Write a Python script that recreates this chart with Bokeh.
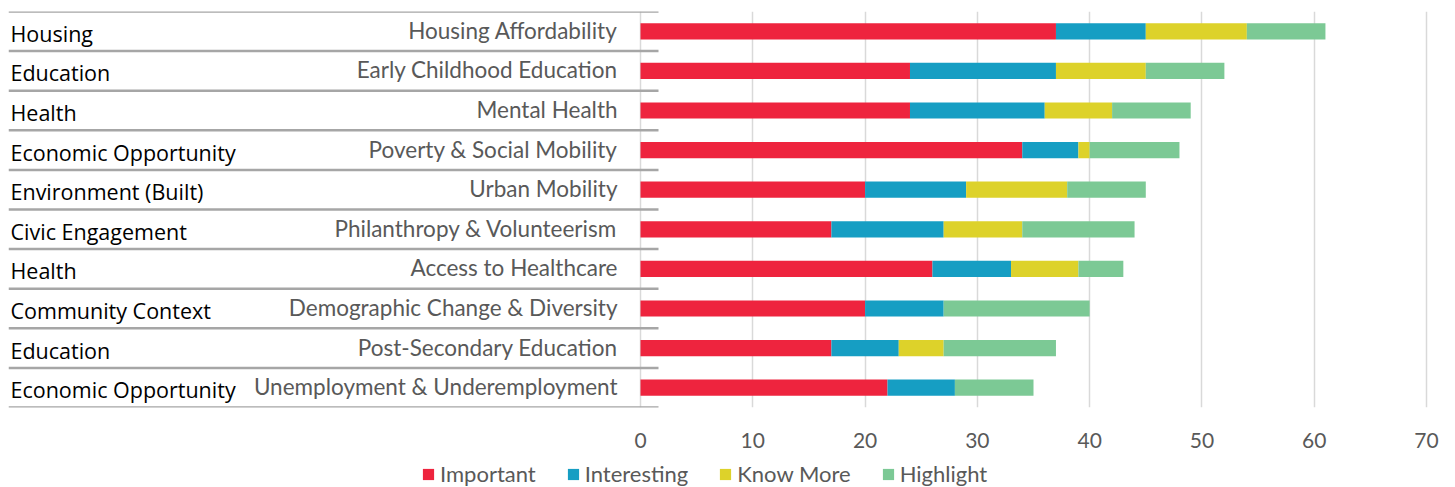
from bokeh.plotting import figure
from bokeh.layouts import column
from bokeh.models import (ColumnDataSource, Range1d, FixedTicker, Legend, LegendItem)
from bokeh.core.properties import value
from bokeh.embed import file_html
from bokeh.resources import INLINE

groups = ["Housing", "Education", "Health", "Economic Opportunity", "Environment (Built)",
          "Civic Engagement", "Health", "Community Context", "Education", "Economic Opportunity"]
topics = ["Housing Affordability", "Early Childhood Education", "Mental Health",
          "Poverty & Social Mobility", "Urban Mobility", "Philanthropy & Volunteerism",
          "Access to Healthcare", "Demographic Change & Diversity", "Post-Secondary Education",
          "Unemployment & Underemployment"]
important = [37, 24, 24, 34, 20, 17, 26, 20, 17, 22]
interesting = [8, 13, 12, 5, 9, 10, 7, 7, 6, 6]
know_more = [9, 8, 6, 1, 9, 7, 6, 0, 4, 0]
highlight = [7, 7, 7, 8, 7, 10, 4, 13, 10, 7]
series = ["Important", "Interesting", "Know More", "Highlight"]
colors = ["#EE243E", "#169EC3", "#DDD22A", "#7CC995"]
xticks = [0, 10, 20, 30, 40, 50, 60, 70]

n = len(topics)
ys = list(range(n))

# layout constants (pixels)
LB = 8                     # left border
FW = 1437                  # frame width
FH = 396                   # frame height
zero_px = 632              # pixel position of x=0 within frame
px_per_unit = 786 / 70
x_start = -zero_px / px_per_unit
x_end = (FW - zero_px) / px_per_unit

p = figure(frame_width=FW, frame_height=FH, output_backend="svg", toolbar_location=None,
           x_range=Range1d(x_start, x_end), y_range=Range1d(n - 0.5, -0.5),
           min_border_left=LB, min_border_right=0, min_border_top=11, min_border_bottom=43,
           y_axis_location=None)
p.outline_line_color = None
p.ygrid.visible = False
p.xgrid.ticker = FixedTicker(ticks=xticks)
p.xgrid.grid_line_color = "#D9D9D9"
p.xgrid.grid_line_width = 1.5

source = ColumnDataSource(dict(y=ys, Important=important, Interesting=interesting,
                               **{"Know More": know_more}, Highlight=highlight,
                               groups=groups, topics=topics))

p.hbar_stack(series, y="y", height=0.41, color=colors, line_color=None, source=source)

# row separators
sep_y = [i - 0.5 for i in range(n + 1)]
p.segment(x0=[x_start] * len(sep_y), x1=[18 / px_per_unit] * len(sep_y), y0=sep_y, y1=sep_y,
          line_color="#A6A6A6", line_width=2.5)

# labels
p.text(x=x_start, y="y", text="groups", source=source, x_offset=2, y_offset=2,
       text_align="left", text_baseline="middle", text_font=value("Open Sans"),
       text_font_size="21.5px", text_color="#000000")
p.text(x=0, y="y", text="topics", source=source, x_offset=-23, y_offset=-1,
       text_align="right", text_baseline="middle", text_font=value("Lato"),
       text_font_size="22.5px", text_color="#595959")

ax = p.xaxis[0]
ax.ticker = FixedTicker(ticks=xticks)
ax.axis_line_color = None
ax.major_tick_line_color = None
ax.minor_tick_line_color = None
ax.major_label_text_font = "Lato"
ax.major_label_text_font_size = "21px"
ax.major_label_text_color = "#595959"
ax.major_label_standoff = 19

# legend strip underneath
p2 = figure(frame_width=LB + FW, frame_height=37, output_backend="svg", toolbar_location=None,
            x_range=Range1d(1000, 1001), y_range=Range1d(1000, 1001),
            min_border_left=0, min_border_right=0, min_border_top=0, min_border_bottom=0,
            x_axis_location=None, y_axis_location=None)
p2.outline_line_color = None
p2.grid.visible = False
renderers = p2.hbar_stack(series, y="y", height=0.41, color=colors, line_color=None,
                          source=source)
legend = Legend(items=[LegendItem(label=s, renderers=[r]) for s, r in zip(series, renderers)],
                orientation="horizontal", location=(421, 0),
                glyph_width=14, glyph_height=14, label_standoff=5, spacing=30,
                label_text_font="Lato", label_text_font_size="22px",
                label_text_color="#595959", border_line_color=None,
                background_fill_alpha=0, padding=0, margin=0)
p2.add_layout(legend, "center")

layout = column(p, p2, spacing=0)
open("out.html", "w").write(file_html(layout, INLINE))
